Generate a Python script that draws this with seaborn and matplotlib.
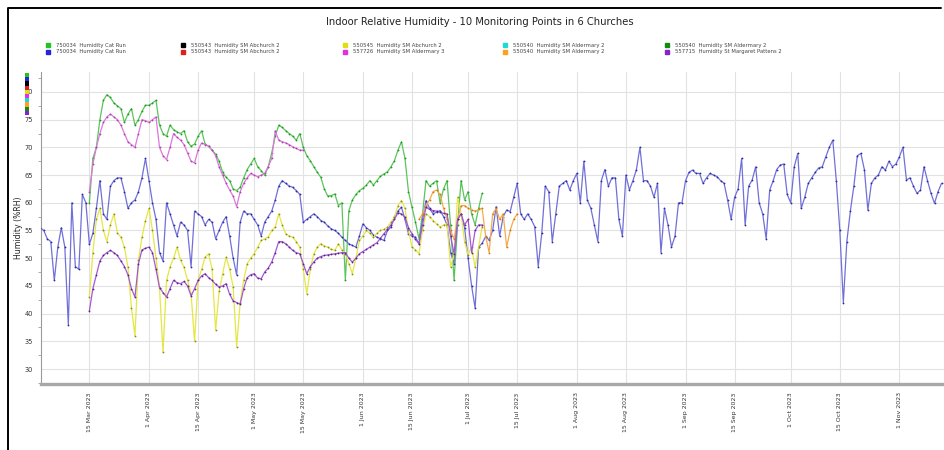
import pandas as pd
import matplotlib
matplotlib.use("Agg")
import matplotlib.pyplot as plt
from matplotlib.lines import Line2D
from matplotlib.patches import Rectangle
from matplotlib.ticker import MultipleLocator
import seaborn as sns

TITLE = "Indoor Relative Humidity - 10 Monitoring Points in 6 Churches"
Y_LABEL = "Humidity (%RH)"

# Legend entries, in legend order (column by column, two rows each)
SERIES_NAMES = [
    "750034  Humidity Cat Run",
    "750034  Humidity Cat Run",
    "550543  Humidity SM Abchurch 2",
    "550543  Humidity SM Abchurch 2",
    "550545  Humidity SM Abchurch 2",
    "557726  Humidity SM Aldermary 3",
    "550540  Humidity SM Aldermary 2",
    "550540  Humidity SM Aldermary 2",
    "550540  Humidity SM Aldermary 2",
    "557715  Humidity St Margaret Pattens 2",
]
SERIES_COLORS = ["#22c422", "#2626d8", "#000000", "#e02020", "#dede10",
                 "#e030e0", "#20d8d8", "#ffa020", "#138a13", "#8a22cc"]

# Daily relative humidity readings (%RH)
BLUE_START = "2023-03-01"
BLUE_RH = [
    55.5, 55, 53.5, 53, 46, 52, 55.5, 52, 38, 60,
    48.5, 48, 61.5, 60, 52.5, 54.5, 59, 64, 58, 57,
    63, 64, 64.5, 64.5, 62, 59, 60, 60.5, 62, 64.5,
    68, 64, 60, 57, 51, 49.5, 60, 58, 56, 54,
    56.5, 56, 55, 48.5, 58.5, 58, 57.5, 56, 57, 56.5,
    53.5, 55, 56.5, 57.5, 54, 50, 47, 56.5, 58.5, 58,
    58, 57, 56, 54, 56.5, 57.5, 58.5, 60.5, 63, 64,
    63.5, 63, 62.8, 62.2, 61.5, 56.5, 57, 57.5, 58, 57.5,
    56.8, 56.5, 55.8, 55.3, 55, 54.5, 53.8, 53.2, 52.6, 52.3,
    52, 54, 56.2, 55.5, 55, 54.2, 53.8, 53.5, 53.2, 55,
    55.6, 57.5, 58.5, 59.2, 57, 54.4, 54, 53.8, 52.6, 57,
    60.4, 59, 58, 58.3, 58.6, 57.5, 56, 51, 49, 57,
    58, 55.5, 50, 45, 41, 52, 52.7, 53.9, 53.3, 55,
    59.3, 54, 57.5, 58.7, 58.4, 61, 63.5, 58, 57, 58,
    57, 55.7, 48.5, 54.5, 63, 62, 53, 58, 63, 63.5,
    64, 62.3, 64, 65.3, 60, 67.5, 60.5, 59, 56, 53,
    64, 66, 63, 64.5, 64.5, 57, 54, 65, 62.3, 64,
    66, 70, 64, 64, 63, 61, 63.5, 51, 59, 56,
    52, 54, 60, 60, 64, 65.5, 65.9, 65.3, 65.3, 63.5,
    64.5, 65.3, 65, 64.7, 64, 63.5, 60.5, 57, 61, 62.5,
    68, 56, 63, 64.1, 66.5, 60, 58, 53.5, 62.3, 64,
    66, 66.8, 67, 61.5, 60, 66.5, 68.9, 59, 61, 63.5,
    64.5, 65.5, 66.3, 66.5, 68.3, 70, 71.3, 64, 55, 42,
    53, 58.5, 63, 68.5, 68.9, 66, 58.7, 63.5, 64.5, 65,
    66.5, 65.9, 67.5, 66.5, 67, 68.3, 70, 64.1, 64.5, 63,
    61.7, 62.3, 66.5, 64, 61.7, 59.9, 62, 63.5,
]

GREEN_START = "2023-03-15"
GREEN_RH = [
    60, 68, 70, 75, 78.5, 79.5, 79, 78, 77.5, 77,
    74.5, 76, 77, 74, 75, 76.5, 77.6, 77.6, 78, 78.5,
    74, 72.5, 72, 74, 73.2, 72.8, 72.5, 73, 71, 70.2,
    70.6, 72, 73, 70.6, 70.2, 69.5, 68.8, 67.5, 65.5, 64.6,
    64, 62.5, 62.2, 62.8, 64.5, 66, 67, 68, 66.5, 65.8,
    65, 66.5, 69, 72, 74, 73.6, 73, 72.5, 72, 71.3,
    72.5, 70, 68.5, 67.6, 66.5, 65.5, 64.6, 62.5, 61.2, 61.3,
    61.6, 59.5, 60, 46, 58.6, 60.5, 61.5, 62.2, 62.6, 63.2,
    64, 63.2, 64, 64.8, 65.2, 65.6, 66.5, 67.6, 69.5, 71,
    68, 62, 59.2, 56.5, 53.5, 58, 64, 63, 63.5, 64,
    60, 62.5, 64, 56, 46, 56, 64, 60.5, 62, 58,
    56, 59, 61.7,
]

MAGENTA_START = "2023-03-15"
MAGENTA_RH = [
    62, 67, 70, 72.5, 74.5, 75.5, 76, 75.5, 75, 74,
    72.5, 71, 70.5, 70, 72.5, 75, 74.8, 74.5, 75, 75.5,
    70, 68.5, 67.8, 70, 72.5, 71.8, 71.3, 70.5, 69, 67.5,
    67.2, 69.5, 70.8, 70.5, 70.2, 69.5, 68.5, 66.5, 65, 63.5,
    62.3, 61.2, 59.3, 62, 63.5, 64.5, 65.3, 65, 64.7, 65,
    65.3, 66.5, 68, 73, 71.3, 71, 70.8, 70.5, 70.1, 69.8,
    69.5, 69.5,
]

YELLOW_START = "2023-03-15"
YELLOW_RH = [
    43, 51, 57, 59, 55, 53, 56, 58, 54.5, 53.8,
    52, 48.4, 41, 36, 49.6, 53.8, 56.8, 59, 55, 50,
    44.7, 33, 46, 48.4, 50, 52, 49.6, 48.4, 46, 43.6,
    35, 46, 48, 50.2, 50.8, 48, 37, 44, 47.2, 50.2,
    48, 44.8, 34, 42, 46, 49, 50, 50.8, 52, 53.2,
    53.5, 53.8, 55, 55.6, 58, 56, 54.4, 54, 53.8, 53,
    52, 48, 43.6, 48, 50.8, 52, 52.6, 52.2, 52, 51.6,
    51.4, 52.6, 51.5, 50.8, 49, 47.2, 50, 53.2, 54, 55,
    54.5, 53.8, 54.5, 55, 55.2, 55.6, 56.5, 57.4, 59.5, 60.4,
    59, 55, 52, 51.5, 50.8, 55, 58, 57.5, 56.8, 56.2,
    55.6, 56, 56.2, 48.4, 50.8, 61, 58, 53, 50.6, 52,
    48.4, 52, 55.7,
]

ORANGE_START = "2023-06-17"
ORANGE_RH = [
    57, 58, 59.5, 60.5, 62, 62.3, 61.5, 59, 57, 55,
    53.5, 57, 59.5, 59.5, 59, 58.7, 58.5, 58.8, 59, 54,
    51, 58, 59, 57, 58, 52, 55, 57, 58,
]

PURPLE_START = "2023-03-15"
PURPLE_RH = [
    40.5, 44.5, 47, 49.5, 50.5, 51, 51.4, 51, 50.5, 49.5,
    48.5, 47, 44.5, 43, 49, 51.5, 51.8, 52, 51, 48,
    44.7, 43.8, 43, 44.5, 46, 45.6, 45.4, 45.8, 45, 43.2,
    44.5, 46, 46.8, 47.2, 46.5, 46, 45.3, 44.8, 45, 45.4,
    43.5, 42.3, 42, 41.7, 44.5, 46.5, 47, 47.2, 46.4, 46.3,
    47.5, 48.2, 49.3, 51, 53, 53, 52.6, 52, 51.4, 51,
    50.8, 49, 47.2, 48.5, 49.3, 50, 50.3, 50.5, 50.6, 50.7,
    50.8, 50.9, 51, 51, 50, 49.3, 50, 50.8, 51.2, 51.6,
    52, 52.4, 52.8, 53.6, 54.4, 55.2, 56, 57, 58.2, 58,
    57.4, 55.5, 54.4, 53.4, 52.6, 56, 59.2, 58.8, 58.6, 58.5,
    58.3, 58.1, 58, 54, 50.8, 57, 58, 56, 57, 51,
    55, 56, 56,
]

TICK_DATES = ["2023-03-15", "2023-04-01", "2023-04-15", "2023-05-01",
              "2023-05-15", "2023-06-01", "2023-06-15", "2023-07-01",
              "2023-07-15", "2023-08-01", "2023-08-15", "2023-09-01",
              "2023-09-15", "2023-10-01", "2023-10-15", "2023-11-01"]
TICK_LABELS = ["15 Mar 2023", "1 Apr 2023", "15 Apr 2023", "1 May 2023",
               "15 May 2023", "1 Jun 2023", "15 Jun 2023", "1 Jul 2023",
               "15 Jul 2023", "1 Aug 2023", "15 Aug 2023", "1 Sep 2023",
               "15 Sep 2023", "1 Oct 2023", "15 Oct 2023", "1 Nov 2023"]
Y_TICKS = [30, 35, 40, 45, 50, 55, 60, 65, 70, 75, 80]

# series drawn: (start, values, line colour, point colour, layer)
PLOTTED = [
    (GREEN_START, GREEN_RH, "#5cc45c", "#1e9a1e", 2),
    (BLUE_START, BLUE_RH, "#7070d8", "#2a2aa8", 3),
    (YELLOW_START, YELLOW_RH, "#e6e645", "#8a8a20", 4),
    (MAGENTA_START, MAGENTA_RH, "#dc78dc", "#b040b0", 5),
    (ORANGE_START, ORANGE_RH, "#f5aa50", "#d87800", 6),
    (PURPLE_START, PURPLE_RH, "#a458d4", "#5e2288", 7),
]

W, H = 944, 450


def fx(x):
    return x / W


def fy(y):
    return 1 - y / H


sns.set_style("white")
plt.rcParams["font.family"] = ["DejaVu Sans"]

fig = plt.figure(figsize=(W / 100, H / 100), dpi=100)
fig.patch.set_facecolor("white")
ax = fig.add_axes([fx(41), fy(384), 1 - fx(41), (384 - 72) / H])

for start, vals, lc, dc, z in PLOTTED:
    d = pd.DataFrame({"date": pd.date_range(start, periods=len(vals), freq="D"),
                      "rh": vals})
    sns.lineplot(data=d, x="date", y="rh", ax=ax, color=lc, lw=0.9,
                 marker="o", markersize=1.3, markerfacecolor=dc,
                 markeredgewidth=0, errorbar=None, legend=False, zorder=z)

ax.set_xlim(pd.Timestamp("2023-03-01 05:00"), pd.Timestamp("2023-11-13 17:00"))
ax.set_ylim(27.3, 83.6)
ax.set_xticks(pd.to_datetime(TICK_DATES))
ax.set_xticklabels(TICK_LABELS, rotation=90, fontsize=4.5, color="#333333")
ax.set_yticks(Y_TICKS)
ax.set_yticklabels([str(v) for v in Y_TICKS], fontsize=4.8, color="#333333")
ax.yaxis.set_minor_locator(MultipleLocator(2.5))
ax.set_xlabel("")
ax.set_ylabel(Y_LABEL, fontsize=5.6, labelpad=1, color="#222222")

ax.grid(True, which="major", color="#e2e2e2", lw=0.8)
ax.set_axisbelow(True)
for s in ("top", "right"):
    ax.spines[s].set_visible(False)
ax.spines["left"].set_color("#9a9a9a")
ax.spines["left"].set_linewidth(0.8)
ax.spines["bottom"].set_color("#a8a8a8")
ax.spines["bottom"].set_linewidth(2.4)
ax.tick_params(axis="y", which="major", length=4, width=0.6, color="#777777", pad=1.5)
ax.tick_params(axis="y", which="minor", length=2.5, width=0.5, color="#888888", left=True)
ax.tick_params(axis="x", which="major", length=3, width=0.7, color="#555555", pad=3)

# Title
fig.text(fx(480), fy(22), TITLE, ha="center", va="center", fontsize=7.2, color="#222222")

# Legend: five columns, two rows
col_x = [48, 183, 345, 505, 667]
row_y = [45, 52]
for i, (name, col) in enumerate(zip(SERIES_NAMES, SERIES_COLORS)):
    cx, ry = col_x[i // 2], row_y[i % 2]
    fig.add_artist(Line2D([fx(cx)], [fy(ry)], transform=fig.transFigure,
                          marker="s", markersize=2.2, color=col, lw=0))
    fig.text(fx(cx + 8), fy(ry), name, ha="left", va="center",
             fontsize=3.8, color="#444444")

# Colour key strip beside the plot area
for i, col in enumerate(SERIES_COLORS):
    fig.add_artist(Rectangle((fx(25), fy(73 + 4.2 * (i + 1))), 4 / W, 4.2 / H,
                             transform=fig.transFigure, color=col, lw=0))

# Outer frame
fig.add_artist(Line2D([fx(8), fx(8), fx(941)], [0, fy(8), fy(8)],
                      transform=fig.transFigure, color="black", lw=1.4))

fig.savefig("out.png", dpi=100, facecolor="white")
